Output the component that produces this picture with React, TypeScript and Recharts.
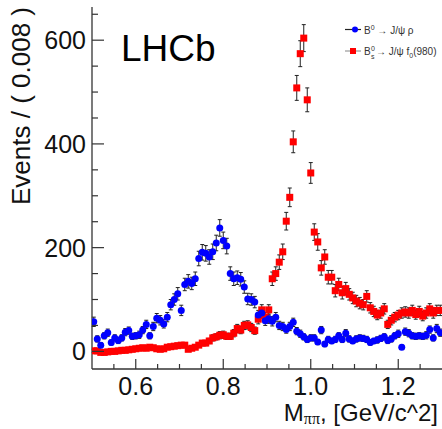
import React from 'react';
import { ScatterChart, Scatter, XAxis, YAxis, ErrorBar } from 'recharts';

// binning of the M(pi pi) spectrum, as given on the y-axis title
const MASS_LOW = 0.5;
const BIN_WIDTH = 0.008;

const BLUE_EVENTS = [
  57, 24, 12, 30, 36, 17, 26, 21, 26, 37,
  40, 29, 30, 32, 41, 52, 30, 48, 64, 60,
  53, 66, 90, 100, 111, 79, 129, 135, 131, 140,
  179, 191, 189, 182, 192, 209, 238, 214, 203, 150,
  140, 142, 139, 124, 101, 100, 95, 70, 74, 59,
  63, 58, 66, 50, 48, 42, 48, 56, 39, 34,
  28, 23, 26, 26, 18, 41, 14, 23, 20, 23,
  30, 23, 35, 24, 20, 24, 26, 25, 23, 17,
  20, 22, 25, 28, 21, 24, 30, 34, 8, 38,
  35, 30, 29, 30, 29, 31, 42, 26, 44, 36,
];
const BLUE_ERRORS = [
  9, 6, 5, 6, 7, 5, 6, 6, 6, 7,
  7, 6, 6, 7, 7, 8, 6, 8, 9, 9,
  8, 9, 10, 11, 12, 10, 12, 13, 12, 13,
  14, 15, 15, 14, 15, 15, 16, 16, 15, 13,
  13, 13, 13, 12, 11, 11, 11, 9, 10, 9,
  9, 9, 9, 8, 8, 7, 8, 8, 7, 7,
  6, 6, 6, 6, 5, 7, 5, 6, 5, 6,
  6, 6, 7, 6, 5, 6, 6, 6, 6, 5,
  5, 6, 6, 6, 6, 6, 6, 7, 4, 7,
  7, 6, 6, 6, 6, 7, 7, 6, 8, 7,
];

const RED_EVENTS = [
  1, 1, -2, -2, -1, 0, 0, 1, 2, 2,
  3, 4, 5, 6, 7, 6, 8, 7, 5, 4,
  5, 8, 9, 10, 11, 12, 12, 4, 6, 8,
  12, 16, 16, 20, 26, 28, 31, 32, 29, 29,
  35, 44, 41, 50, 51, 46, 40, 62, 80, 66,
  80, 140, 150, 172, 192, 251, 297, 404, 508, 574,
  604, 485, 344, 230, 211, 161, 182, 143, 143, 117,
  129, 113, 121, 110, 103, 97, 93, 90, 106, 84,
  77, 70, 74, 82, 52, 60, 66, 70, 74, 76,
  74, 79, 71, 77, 68, 74, 82, 74, 79, 79,
];
const RED_ERRORS = [
  3, 3, 3, 3, 3, 3, 3, 3, 3, 3,
  3, 3, 3, 4, 4, 4, 4, 4, 3, 3,
  3, 4, 4, 4, 4, 4, 4, 3, 4, 4,
  4, 5, 5, 5, 6, 6, 7, 7, 6, 6,
  7, 8, 7, 8, 8, 8, 7, 9, 10, 9,
  10, 13, 13, 14, 15, 17, 18, 21, 24, 25,
  26, 23, 20, 16, 16, 14, 14, 13, 13, 12,
  12, 12, 12, 11, 11, 11, 11, 10, 11, 10,
  10, 9, 10, 10, 8, 9, 9, 9, 10, 10,
  10, 10, 9, 10, 9, 10, 10, 10, 10, 10,
];

const X_TICKS = [0.55, 0.6, 0.65, 0.7, 0.75, 0.8, 0.85, 0.9, 0.95, 1.0, 1.05, 1.1, 1.15, 1.2, 1.25];
const X_MAJOR = [0.6, 0.8, 1.0, 1.2];
const X_LABELS = ['0.6', '0.8', '1.0', '1.2'];
const Y_TICKS = [0, 50, 100, 150, 200, 250, 300, 350, 400, 450, 500, 550, 600, 650];
const Y_MAJOR = [0, 200, 400, 600];

const BLUE = '#0000ff';
const RED = '#ff0000';
const FONT = '"Liberation Sans", Arial, Helvetica, sans-serif';

const toRows = (events: number[], errors: number[]) =>
  events.map((v, i) => ({ m: MASS_LOW + BIN_WIDTH * (i + 0.5), v, e: errors[i] }));

const blueRows = toRows(BLUE_EVENTS, BLUE_ERRORS);
const redRows = toRows(RED_EVENTS, RED_ERRORS);

const XTick = (props: any) => {
  const { x, y, payload } = props;
  const idx = X_MAJOR.findIndex((t) => Math.abs(t - payload.value) < 1e-6);
  const major = idx >= 0;
  return (
    <g>
      <line x1={x} x2={x} y1={y} y2={y - (major ? 10 : 5)} stroke="#333" strokeWidth={1.2} />
      {major && (
        <text x={x} y={y + 26} textAnchor="middle" fontSize={25} fontFamily={FONT} fill="#111">
          {X_LABELS[idx]}
        </text>
      )}
    </g>
  );
};

const YTick = (props: any) => {
  const { x, y, payload } = props;
  const major = Y_MAJOR.includes(payload.value);
  return (
    <g>
      <line x1={x} x2={x + (major ? 12 : 6)} y1={y} y2={y} stroke="#333" strokeWidth={1.2} />
      {major && (
        <text x={x - 6} y={y + 9} textAnchor="end" fontSize={25} fontFamily={FONT} fill="#111">
          {payload.value}
        </text>
      )}
    </g>
  );
};

const Dot = (p: any) => <circle cx={p.cx} cy={p.cy} r={3.5} fill={BLUE} />;
const Box = (p: any) => <rect x={p.cx - 3.5} y={p.cy - 3.5} width={7} height={7} fill={RED} />;

export default function App() {
  return (
    <div style={{ position: 'absolute', left: 0, top: 0, width: 442, height: 429, overflow: 'hidden', background: '#fff' }}>
      <ScatterChart width={450} height={429} margin={{ top: 7, right: 8, bottom: 0, left: 0 }}>
        <XAxis
          type="number"
          dataKey="m"
          domain={[0.5, 1.3]}
          ticks={X_TICKS}
          interval={0}
          allowDataOverflow
          height={60}
          tickSize={0}
          tickMargin={0}
          tickLine={false}
          tick={<XTick />}
          axisLine={{ stroke: '#333', strokeWidth: 1.3 }}
        />
        <XAxis
          xAxisId="frame"
          orientation="top"
          type="number"
          domain={[0.5, 1.3]}
          height={0}
          tick={false}
          tickLine={false}
          axisLine={{ stroke: '#999', strokeWidth: 1.5 }}
        />
        <YAxis
          type="number"
          dataKey="v"
          domain={[-34, 664]}
          ticks={Y_TICKS}
          interval={0}
          allowDataOverflow
          width={92}
          tickSize={0}
          tickMargin={0}
          tickLine={false}
          tick={<YTick />}
          axisLine={{ stroke: '#333', strokeWidth: 1.3 }}
        />
        <Scatter data={redRows} shape={<Box />} isAnimationActive={false}>
          <ErrorBar dataKey="e" direction="y" width={2} stroke="#222" strokeWidth={1} />
        </Scatter>
        <Scatter data={blueRows} shape={<Dot />} isAnimationActive={false}>
          <ErrorBar dataKey="e" direction="y" width={2} stroke="#222" strokeWidth={1} />
        </Scatter>
      </ScatterChart>

      <svg width={442} height={429} style={{ position: 'absolute', left: 0, top: 0, pointerEvents: 'none' }}>
        <text x={121} y={61} fontSize={37} fontFamily={FONT} fill="#000">LHCb</text>

        <text transform="translate(30,7) rotate(-90)" textAnchor="end" fontSize={26} fontFamily={FONT} fill="#111">
          Events / ( 0.008 )
        </text>

        <text x={438} y={421} textAnchor="end" fontSize={24} fontFamily={FONT} fill="#111">
          M
          <tspan fontFamily='"Liberation Serif", serif' fontSize={16} dy={3}>ππ</tspan>
          <tspan dy={-3}>, [GeV/c^2]</tspan>
        </text>

        {/* legend */}
        <line x1={345} x2={361} y1={29.5} y2={29.5} stroke="#222" strokeWidth={1.2} />
        <circle cx={355} cy={29.5} r={3} fill={BLUE} />
        <text x={364} y={33.5} fontSize={10} fontFamily={FONT} fill="#333">
          B<tspan fontSize={7} dy={-4}>0</tspan>
          <tspan dy={4}> → J/ψ ρ</tspan>
        </text>

        <line x1={345} x2={361} y1={51} y2={51} stroke="#999" strokeWidth={1.2} />
        <rect x={350} y={48} width={6} height={6} fill={RED} />
        <text x={364} y={55} fontSize={10} fontFamily={FONT} fill="#333">B</text>
        <text x={371} y={51} fontSize={7} fontFamily={FONT} fill="#333">0</text>
        <text x={371} y={58.5} fontSize={7} fontFamily={FONT} fill="#333">s</text>
        <text x={376} y={55} fontSize={10} fontFamily={FONT} fill="#333">
          → J/ψ f<tspan fontSize={7} dy={3}>0</tspan>
          <tspan dy={-3}>(980)</tspan>
        </text>
      </svg>
    </div>
  );
}
